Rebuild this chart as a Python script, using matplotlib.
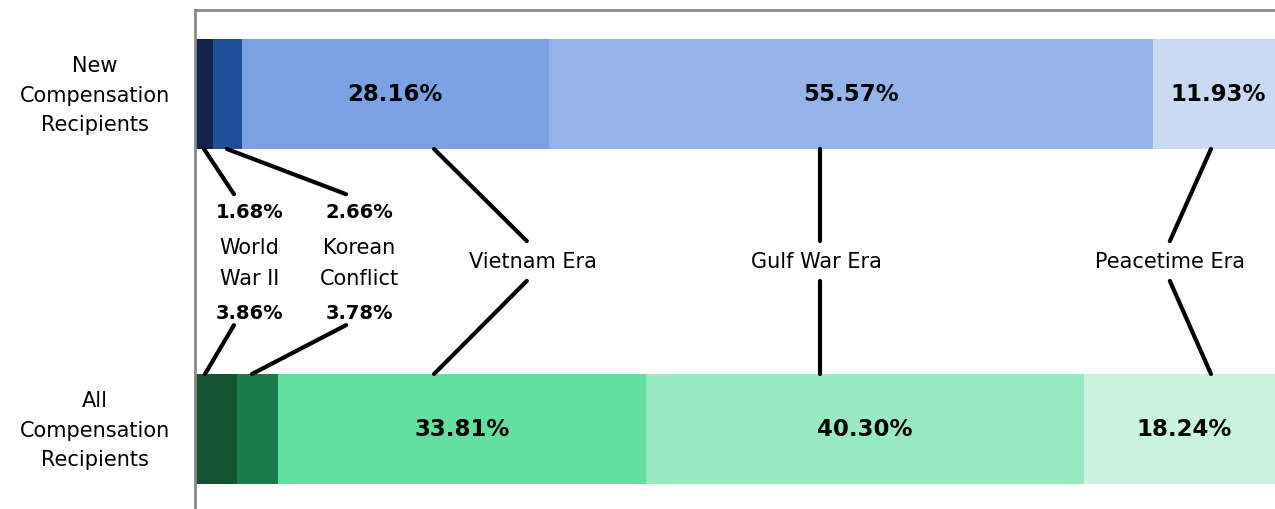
import matplotlib.pyplot as plt
import matplotlib.transforms as mtransforms
import numpy as np

# shares by service era, in percent
groups = ["All\nCompensation\nRecipients", "New\nCompensation\nRecipients"]
eras = ["World War II", "Korean Conflict", "Vietnam Era", "Gulf War Era", "Peacetime Era"]
new_share = [1.68, 2.66, 28.16, 55.57, 11.93]
all_share = [3.86, 3.78, 33.81, 40.30, 18.24]

new_colors = ["#13234a", "#1f4e9a", "#7aa1e3", "#94b3e8", "#c9d9f2"]
all_colors = ["#155232", "#1a7c4c", "#62e09f", "#97eac2", "#c9f3df"]

# leader lines: x where they touch top bar, x at label, x at bottom bar
leader_top = [0.83, 2.94, 21.97, 57.44, 93.38]
leader_mid = [3.58, 13.88, 30.5, 57.44, 89.6]
leader_bot = [0.92, 5.24, 21.97, 57.44, 93.38]

fig = plt.figure(figsize=(12.75, 5.1), dpi=100)
ax = fig.add_axes([195 / 1275, -1 / 510, 1088 / 1275, 500 / 510])

bar_h = 110 / 335
rows = [(0, all_share, all_colors), (1, new_share, new_colors)]
for y, vals, cols in rows:
    left = 0
    for i, (v, c) in enumerate(zip(vals, cols)):
        ax.barh(y, v, left=left, height=bar_h, color=c, linewidth=0)
        if i >= 2:
            ax.text(left + v / 2, y, "%.2f%%" % v, ha="center", va="center",
                    fontsize=16.5, fontweight="bold", color="black")
        left += v

top_edge = 1 - bar_h / 2
bot_edge = bar_h / 2

# big eras: label in the middle, two leader lines
label_shift = [0, 0, 0.55, -0.3, 0]
for i in range(2, 5):
    ax.plot([leader_top[i], leader_mid[i]], [top_edge, 0.561], color="black",
            lw=3, solid_capstyle="round")
    ax.plot([leader_mid[i], leader_bot[i]], [0.442, bot_edge], color="black",
            lw=3, solid_capstyle="round")
    ax.text(leader_mid[i] + label_shift[i], 0.5, eras[i], ha="center",
            va="center", fontsize=15)

# small eras: stacked label with both percents
small_x = [5.0, 15.1]
small_words = [["World", "War II"], ["Korean", "Conflict"]]
for i in range(2):
    ax.plot([leader_top[i], leader_mid[i]], [top_edge, 0.701], color="black",
            lw=3, solid_capstyle="round")
    ax.plot([leader_mid[i], leader_bot[i]], [0.310, bot_edge], color="black",
            lw=3, solid_capstyle="round")
    ax.text(small_x[i], 0.648, "%.2f%%" % new_share[i], ha="center", va="center",
            fontsize=14, fontweight="bold")
    ax.text(small_x[i], 0.543, small_words[i][0], ha="center", va="center", fontsize=15)
    ax.text(small_x[i], 0.451, small_words[i][1], ha="center", va="center", fontsize=15)
    ax.text(small_x[i], 0.349, "%.2f%%" % all_share[i], ha="center", va="center",
            fontsize=14, fontweight="bold")

ax.set_xlim(0, 100)
ax.set_ylim(1 - 416 / 335, 1 + 84 / 335)
ax.set_yticks([0, 1])
ax.set_yticklabels(groups, fontsize=15, ha="center", linespacing=1.58)
ax.tick_params(axis="y", length=0, pad=72)
# nudge the group labels up a little
up = mtransforms.ScaledTranslation(0, 6 / 100, fig.dpi_scale_trans)
for lbl in ax.get_yticklabels():
    lbl.set_transform(lbl.get_transform() + up)
ax.set_xticks([])
for s in ["right", "bottom"]:
    ax.spines[s].set_visible(False)
for s in ["left", "top"]:
    ax.spines[s].set_color("#888888")
    ax.spines[s].set_linewidth(2)

fig.savefig("out.png", dpi=100)
